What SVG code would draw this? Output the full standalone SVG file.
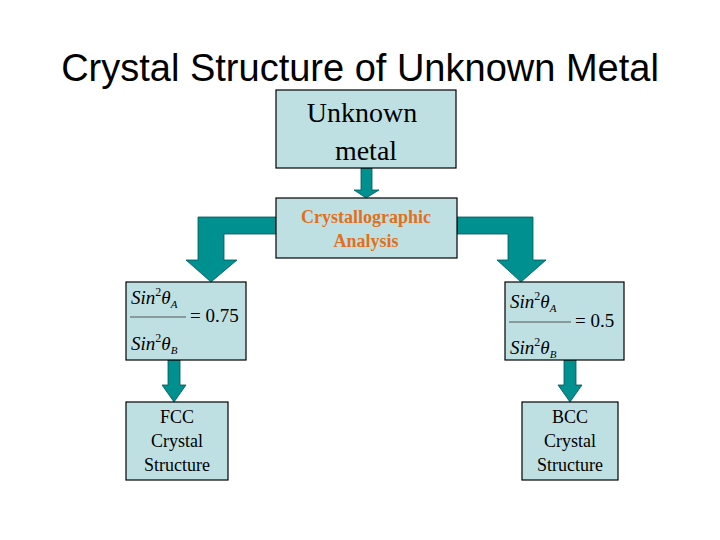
<svg xmlns="http://www.w3.org/2000/svg" width="720" height="540" viewBox="0 0 720 540">
<style>
.box{fill:#bfe0e3;stroke:#000;stroke-width:1.2}
.arr{fill:#009090;stroke:#005555;stroke-width:0.8}
.t{font-family:"Liberation Serif",serif;text-anchor:middle;fill:#000}
.m{font-family:"Liberation Serif",serif;font-style:italic;font-size:19px}
.o{font-family:"Liberation Serif",serif;font-size:18px;fill:#e07020;font-weight:bold;text-anchor:middle}
</style>
<rect width="720" height="540" fill="#fff"/>
<text x="360" y="81" font-family="Liberation Sans,Arial,sans-serif" font-size="38" text-anchor="middle">Crystal Structure of Unknown Metal</text>
<g id="connectors">
<polygon class="arr" points="361,168 372,168 372,190 379,190 366,198 354,190 361,190"/>
<polygon class="arr" points="276,217 276,234 224,234 224,260 237,260 211,282 186,260 198,260 198,217"/>
<polygon class="arr" points="457,217 457,234 508,234 508,260 497,260 521,282 546,260 533,260 533,217"/>
<polygon class="arr" points="168,360 180,360 180,385 186,385 174,402 162,385 168,385"/>
<polygon class="arr" points="564,360 576,360 576,385 582,385 570,402 558,385 564,385"/>
</g>
<g id="unknown"><rect class="box" x="276" y="90" width="180" height="78"/>
<text class="t" x="362" y="122" font-size="28">Unknown</text><text class="t" x="366" y="160" font-size="28">metal</text></g>
<g id="analysis"><rect class="box" x="276" y="198" width="181" height="60"/>
<text class="o" x="366" y="223">Crystallographic</text><text class="o" x="366" y="247">Analysis</text></g>
<g id="fccratio"><rect class="box" x="126" y="282" width="120" height="78"/>
<text class="m" x="131" y="304">Sin<tspan font-size="12" dy="-8" font-style="normal">2</tspan><tspan dy="8">θ</tspan><tspan font-size="11" dy="4">A</tspan></text>
<line x1="130" y1="317" x2="186" y2="317" stroke="#555" stroke-width="1"/>
<text x="190" y="322" font-family="Liberation Serif,serif" font-size="19">= 0.75</text>
<text class="m" x="131" y="350">Sin<tspan font-size="12" dy="-8" font-style="normal">2</tspan><tspan dy="8">θ</tspan><tspan font-size="11" dy="4">B</tspan></text></g>
<g id="bccratio"><rect class="box" x="505" y="282" width="119" height="78"/>
<text class="m" x="510" y="308">Sin<tspan font-size="12" dy="-8" font-style="normal">2</tspan><tspan dy="8">θ</tspan><tspan font-size="11" dy="4">A</tspan></text>
<line x1="509" y1="322" x2="571" y2="322" stroke="#555" stroke-width="1"/>
<text x="575" y="327" font-family="Liberation Serif,serif" font-size="19">= 0.5</text>
<text class="m" x="510" y="354">Sin<tspan font-size="12" dy="-8" font-style="normal">2</tspan><tspan dy="8">θ</tspan><tspan font-size="11" dy="4">B</tspan></text></g>
<g id="fcc"><rect class="box" x="126" y="402" width="102" height="78"/>
<text class="t" x="177" y="423" font-size="18">FCC</text><text class="t" x="177" y="447" font-size="18">Crystal</text><text class="t" x="177" y="471" font-size="18">Structure</text></g>
<g id="bcc"><rect class="box" x="522" y="402" width="96" height="78"/>
<text class="t" x="570" y="423" font-size="18">BCC</text><text class="t" x="570" y="447" font-size="18">Crystal</text><text class="t" x="570" y="471" font-size="18">Structure</text></g>
</svg>
